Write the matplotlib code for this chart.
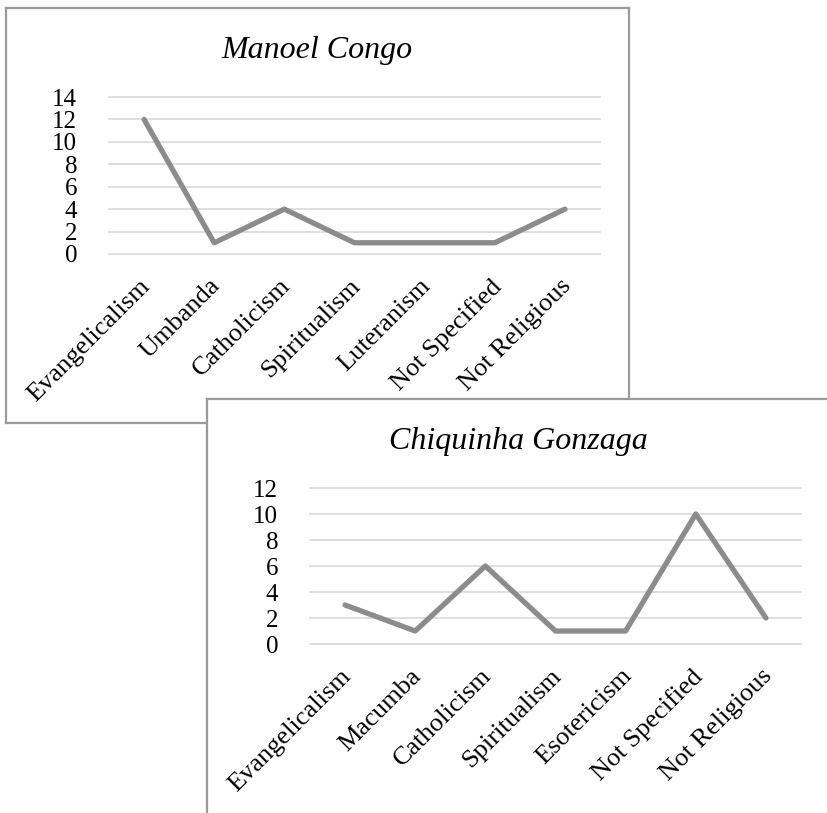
import matplotlib
matplotlib.use("Agg")
import matplotlib.pyplot as plt
import matplotlib.transforms as mtransforms

W, H = 828, 813
DPI = 100

# data
congo_title = "Manoel Congo"
congo_labels = ["Evangelicalism", "Umbanda", "Catholicism", "Spiritualism",
                "Luteranism", "Not Specified", "Not Religious"]
congo_values = [12, 1, 4, 1, 1, 1, 4]
congo_yticks = [0, 2, 4, 6, 8, 10, 12, 14]

gonzaga_title = "Chiquinha Gonzaga"
gonzaga_labels = ["Evangelicalism", "Macumba", "Catholicism", "Spiritualism",
                  "Esotericism", "Not Specified", "Not Religious"]
gonzaga_values = [3, 1, 6, 1, 1, 10, 2]
gonzaga_yticks = [0, 2, 4, 6, 8, 10, 12]

SERIF = ["Liberation Serif", "DejaVu Serif"]
LINE_C = "#8c8c8c"
GRID_C = "#d9d9d9"
BORDER_C = "#9a9a9a"

plt.rcParams["font.family"] = SERIF


def rect(x0, y0, x1, y1):
    # pixel box (top-left origin) -> figure fraction
    return [x0 / W, 1 - y1 / H, (x1 - x0) / W, (y1 - y0) / H]


def frame(fig, box):
    fa = fig.add_axes(rect(*box))
    fa.set_facecolor("white")
    fa.set_xticks([])
    fa.set_yticks([])
    for s in fa.spines.values():
        s.set_color(BORDER_C)
        s.set_linewidth(1.6)
    return fa


def panel(fig, box, plot_box, title, title_xy, labels, values, yticks):
    frame(fig, box)
    ax = fig.add_axes(rect(*plot_box))
    ax.patch.set_visible(False)
    for s in ax.spines.values():
        s.set_visible(False)
    n = len(labels)
    xs = list(range(n))
    ax.set_xlim(-0.5, n - 0.5)
    ax.set_ylim(yticks[0], yticks[-1])
    ax.set_yticks(yticks)
    ax.set_yticklabels([str(t) for t in yticks], fontsize=18)
    ax.tick_params(axis="y", length=0, pad=23)
    ax.set_xticks([])
    for t in yticks:
        ax.axhline(t, color=GRID_C, lw=1.2, zorder=1, clip_on=False)
    ax.plot(xs, values, color=LINE_C, lw=3.8, solid_capstyle="round",
            solid_joinstyle="round", zorder=3, clip_on=False)
    off = mtransforms.ScaledTranslation(-5 / DPI, -21 / DPI, fig.dpi_scale_trans)
    for x, lab in zip(xs, labels):
        ax.text(x, 0, lab, transform=ax.get_xaxis_transform() + off,
                rotation=45, rotation_mode="anchor", ha="right", va="top",
                fontsize=19)
    fig.text(title_xy[0] / W, 1 - title_xy[1] / H, title, fontsize=23,
             style="italic", ha="center", va="baseline")
    return ax


fig = plt.figure(figsize=(W / DPI, H / DPI), dpi=DPI)

panel(fig, (6, 8, 629, 423), (109, 97, 600, 254), congo_title, (317, 58),
      congo_labels, congo_values, congo_yticks)
panel(fig, (207, 399, 840, 830), (310, 488, 801, 644), gonzaga_title, (518, 449),
      gonzaga_labels, gonzaga_values, gonzaga_yticks)

fig.savefig("out.png", dpi=DPI)
